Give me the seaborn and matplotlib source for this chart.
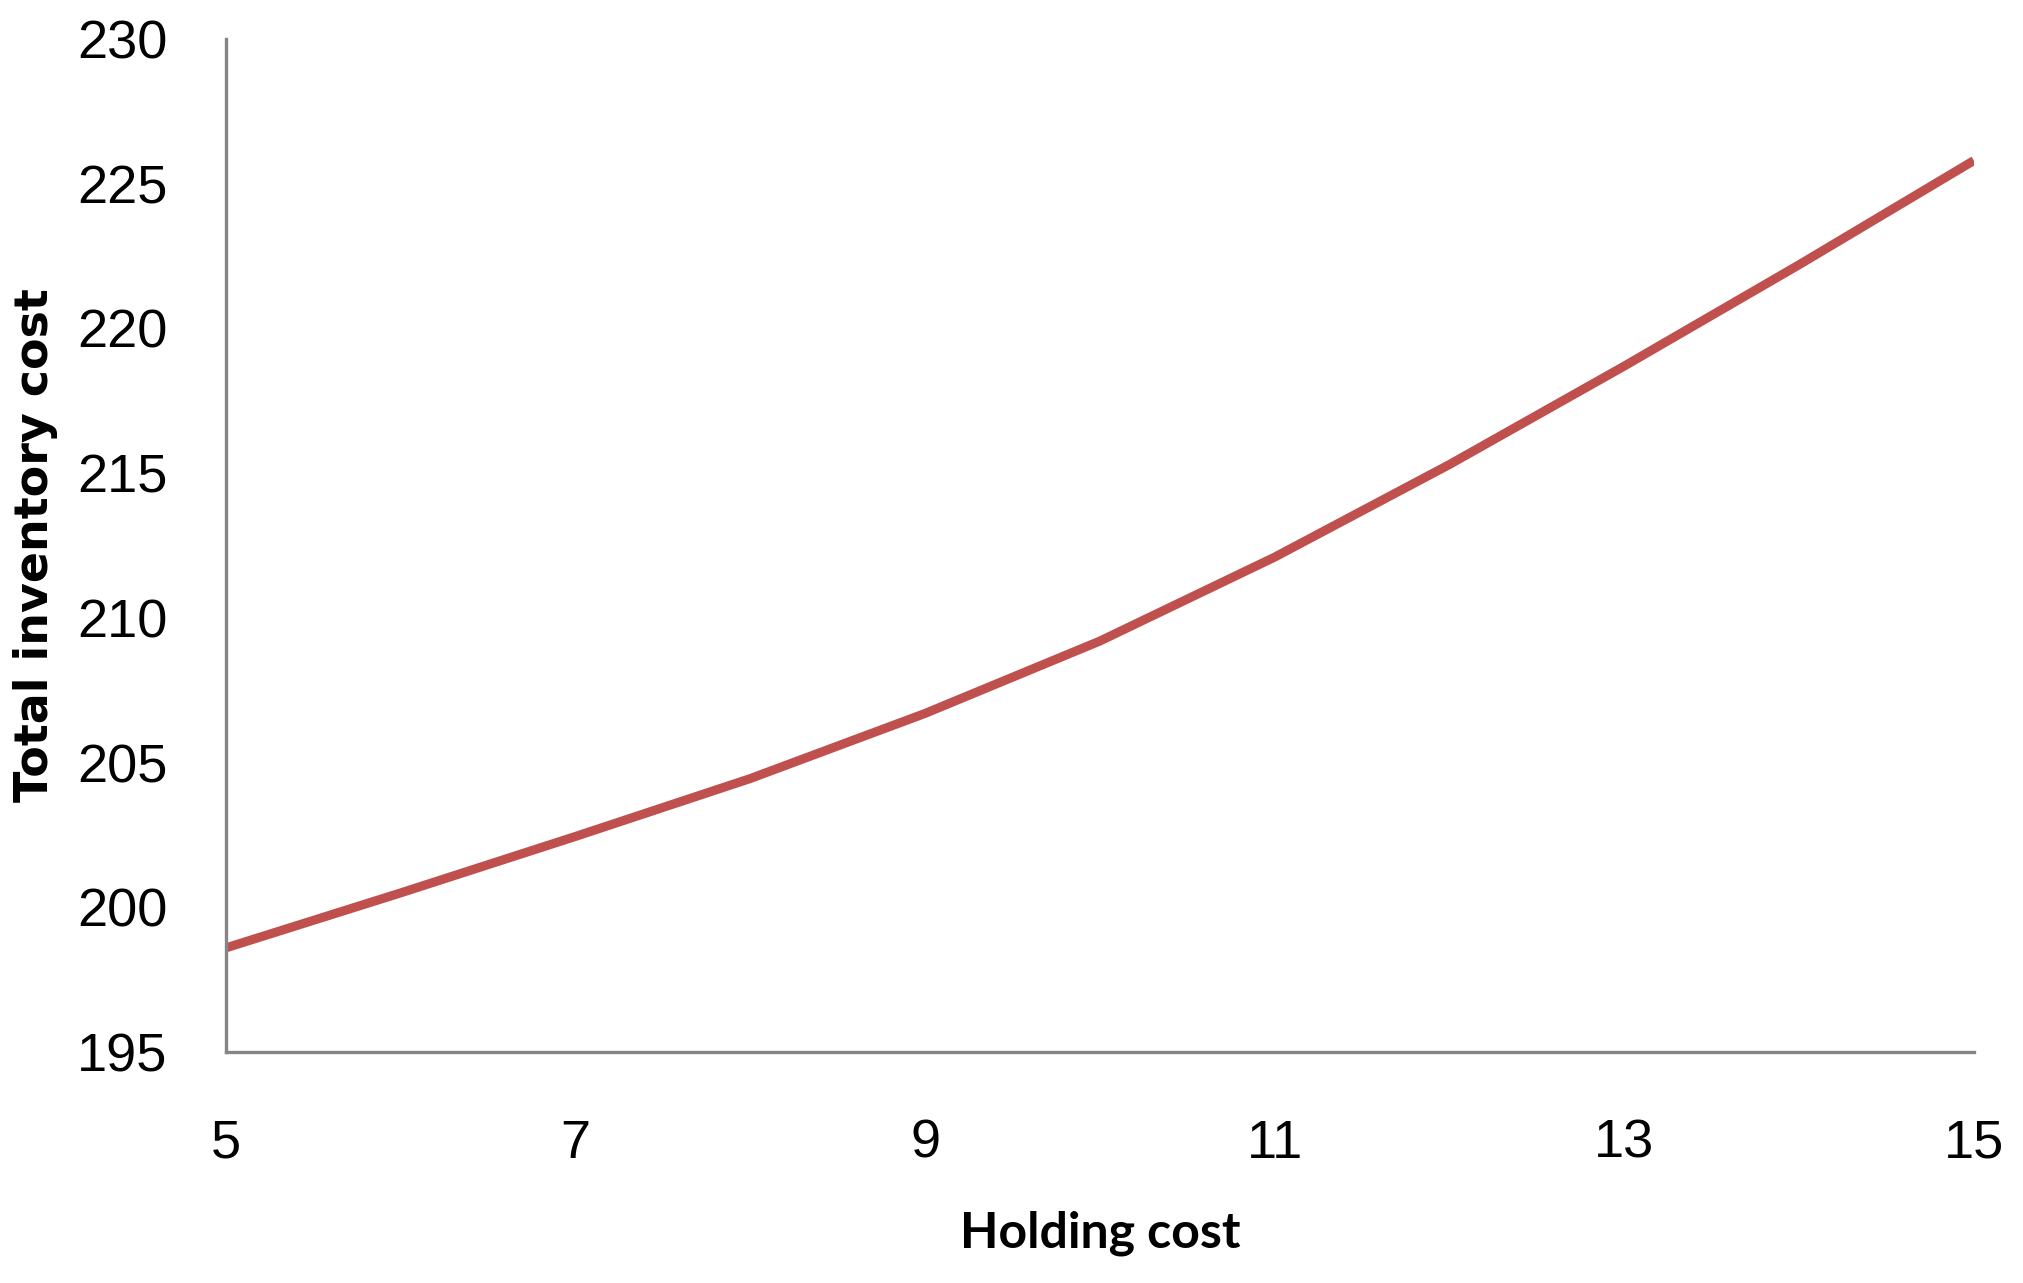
import numpy as np
import pandas as pd
import seaborn as sns
import matplotlib.pyplot as plt

# values
holding_cost = [5, 6, 7, 8, 9, 10, 11, 12, 13, 14, 15]
total_cost = [198.6, 200.5, 202.45, 204.45, 206.7, 209.2, 212.1, 215.3, 218.7, 222.2, 225.8]
x_ticks = [5, 7, 9, 11, 13, 15]
y_ticks = [195, 200, 205, 210, 215, 220, 225, 230]

sns.set_style("white")
plt.rcParams['font.family'] = ['Liberation Sans', 'DejaVu Sans']

df = pd.DataFrame({"Holding cost": holding_cost, "Total inventory cost": total_cost})

fig = plt.figure(figsize=(20.23, 12.83), dpi=100)
ax = fig.add_axes([0.1117, 0.18, 0.864, 0.7896])

sns.lineplot(data=df, x="Holding cost", y="Total inventory cost", ax=ax,
             color="#C0504D", linewidth=6.5, solid_capstyle="butt",
             solid_joinstyle="round")

ax.set_xlim(5, 15)
ax.set_ylim(195, 230)
ax.set_xticks(x_ticks)
ax.set_yticks(y_ticks)
ax.tick_params(axis="both", length=0, labelsize=39, colors="black")
ax.tick_params(axis="y", pad=42)
ax.tick_params(axis="x", pad=48)

for side in ["top", "right"]:
    ax.spines[side].set_visible(False)
for side in ["left", "bottom"]:
    ax.spines[side].set_color("#868686")
    ax.spines[side].set_linewidth(2.4)

ax.set_xlabel("Holding cost", fontsize=36, fontweight="bold", family="Lato",
              color="black", labelpad=30)
ax.set_ylabel("Total inventory cost", fontsize=33, fontweight="bold",
              family="DejaVu Sans", color="black", labelpad=14)

fig.savefig("out.png", dpi=100)
